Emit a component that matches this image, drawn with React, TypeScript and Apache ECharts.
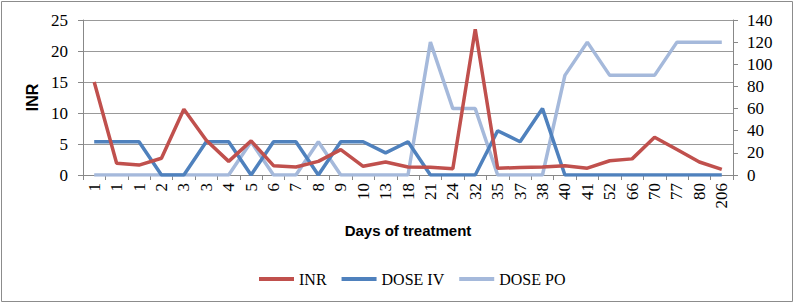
import React, { useEffect, useRef } from "react";
import * as echarts from "echarts";

const categories = ["1","1","1","2","3","3","4","5","6","7","8","9","10","13","18","21","24","32","35","37","38","40","41","52","66","70","77","80","206"];
const inr = [15,1.9,1.6,2.7,10.6,5.6,2.2,5.5,1.5,1.3,2.2,4.1,1.4,2.1,1.3,1.25,1.0,23.5,1.1,1.2,1.3,1.5,1.1,2.3,2.6,6.1,4.1,2.1,0.9];
const doseIV = [30,30,30,0,0,30,30,0,30,30,0,30,30,20,30,0,0,0,40,30,60,0,0,0,0,0,0,0,0];
const dosePO = [0,0,0,0,0,0,0,30,0,0,30,0,0,0,0,120,60,60,0,0,0,90,120,90,90,90,120,120,120];

const serif = "'Liberation Serif', 'DejaVu Serif', serif";
const sans = "'Liberation Sans', Arial, sans-serif";

export default function App() {
  const ref = useRef<HTMLDivElement>(null);
  useEffect(() => {
    document.body.style.margin = "0";
    const chart = echarts.init(ref.current!, null, { renderer: "svg" });
    chart.setOption({
      animation: false,
      backgroundColor: "#fff",
      graphic: [
        {
          type: "rect",
          shape: { x: 1.5, y: 1.5, width: 791, height: 300 },
          style: { fill: "none", stroke: "#8c8c8c", lineWidth: 1 },
          silent: true,
        },
      ],
      grid: { left: 83, right: 65, top: 20, bottom: 130 },
      legend: {
        top: 266,
        left: 254,
        icon: "rect",
        itemWidth: 35,
        itemHeight: 4,
        itemGap: 15,
        textStyle: { fontFamily: serif, fontSize: 16, color: "#000" },
        data: ["INR", "DOSE IV", "DOSE PO"],
      },
      xAxis: {
        type: "category",
        data: categories,
        name: "Days of treatment",
        nameLocation: "middle",
        nameGap: 48,
        nameTextStyle: { fontFamily: sans, fontWeight: "bold", fontSize: 15, color: "#000" },
        axisLine: { lineStyle: { color: "#888" } },
        axisTick: { show: true, interval: 0, length: 5, lineStyle: { color: "#888" } },
        axisLabel: { interval: 0, rotate: 90, fontFamily: serif, fontSize: 17, color: "#000", margin: 8 },
      },
      yAxis: [
        {
          type: "value",
          min: 0,
          max: 25,
          interval: 5,
          name: "INR",
          nameLocation: "middle",
          nameGap: 38,
          nameTextStyle: { fontFamily: sans, fontWeight: "bold", fontSize: 16, color: "#000" },
          axisLine: { show: true, lineStyle: { color: "#888" } },
          axisTick: { show: true, length: 5, lineStyle: { color: "#888" } },
          axisLabel: { fontFamily: serif, fontSize: 17, color: "#000", margin: 15 },
          splitLine: { lineStyle: { color: "#999" } },
        },
        {
          type: "value",
          min: 0,
          max: 140,
          interval: 20,
          position: "right",
          axisLine: { show: true, lineStyle: { color: "#888" } },
          axisTick: { show: true, length: 5, lineStyle: { color: "#888" } },
          axisLabel: { fontFamily: serif, fontSize: 17, color: "#000", margin: 14 },
          splitLine: { show: false },
        },
      ],
      series: [
        {
          name: "INR",
          type: "line",
          data: inr,
          yAxisIndex: 0,
          symbol: "none",
          color: "#C0504D",
          lineStyle: { width: 3.5, color: "#C0504D" },
          z: 3,
        },
        {
          name: "DOSE IV",
          type: "line",
          data: doseIV,
          yAxisIndex: 1,
          symbol: "none",
          color: "#4F81BD",
          lineStyle: { width: 3.5, color: "#4F81BD" },
          z: 2,
        },
        {
          name: "DOSE PO",
          type: "line",
          data: dosePO,
          yAxisIndex: 1,
          symbol: "none",
          color: "#A5B9DB",
          lineStyle: { width: 3.5, color: "#A5B9DB" },
          z: 1,
        },
      ],
    });
    return () => chart.dispose();
  }, []);
  return <div ref={ref} style={{ width: 798, height: 305 }} />;
}
